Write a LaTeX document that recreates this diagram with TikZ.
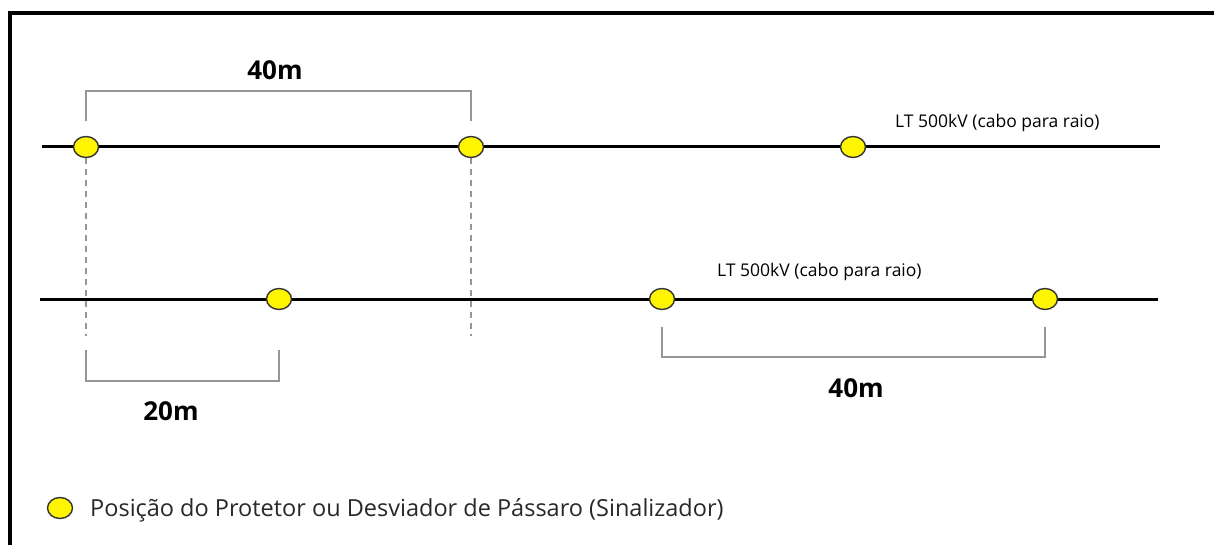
\documentclass[tikz,border=0pt]{standalone}
\usepackage{fontspec}
\setmainfont{Open Sans}
\usetikzlibrary{calc,shapes.geometric}
\definecolor{marker}{RGB}{255,245,0}
\definecolor{dimgray}{RGB}{150,150,150}
\definecolor{legendtext}{RGB}{40,40,40}
\tikzset{
  wire/.style={line width=3pt, black},
  frame/.style={line width=3.5pt, black},
  sinal/.style={ellipse, draw=black!80, line width=1.4pt, fill=marker,
    minimum width=25pt, minimum height=21pt, inner sep=0pt},
  dimline/.style={dimgray, line width=1.5pt},
  guide/.style={dimgray, line width=1.5pt, dash pattern=on 6pt off 5pt},
  dimlabel/.style={font=\fontsize{26}{28}\selectfont\bfseries, inner sep=0pt},
  linelabel/.style={font=\fontsize{17.5}{19}\selectfont, inner sep=0pt, anchor=west},
}
\begin{document}
\begin{tikzpicture}[x=1pt, y=-1pt]
  \useasboundingbox (0,0) rectangle (1214,545);

  % frame (top and left edges)
  \draw[frame] (1214,13) -- (10,13) -- (10,545);

  % end points of the two conductors
  \coordinate (a1) at (42,147);
  \coordinate (a2) at (1160,147);
  \coordinate (b1) at (40,299);
  \coordinate (b2) at (1158,299);

  % dashed guides from the first span
  \coordinate (g1t) at (86,158);
  \coordinate (g1b) at (86,336);
  \coordinate (g2t) at (471,158);
  \coordinate (g2b) at (471,336);
  \draw[guide] (g1t) -- (g1b);
  \draw[guide] (g2t) -- (g2b);

  % conductors
  \draw[wire] (a1) -- (a2);
  \draw[wire] (b1) -- (b2);

  % markers on the upper conductor
  \node[sinal] (p1) at (86,147) {};
  \node[sinal] (p2) at (471,147) {};
  \node[sinal] (p3) at (853,147) {};
  % markers on the lower conductor
  \node[sinal] (q1) at (279,299) {};
  \node[sinal] (q2) at (662,299) {};
  \node[sinal] (q3) at (1045,299) {};

  % conductor labels
  \node[linelabel] (l1) at (895,123) {LT 500kV (cabo para raio)};
  \node[linelabel] (l2) at (717,272) {LT 500kV (cabo para raio)};

  % upper 40 m dimension
  \draw[dimline] ($(p1)+(0,-26)$) |- (86,91) -| ($(p2)+(0,-26)$);
  \node[dimlabel] (d1) at (275,70) {40m};

  % lower-left 20 m dimension
  \draw[dimline] (86,350) |- (279,381) coordinate (c20) -- ($(q1)+(0,51)$);
  \node[dimlabel] (d2) at (171,411) {20m};

  % lower-right 40 m dimension
  \draw[dimline] ($(q2)+(0,28)$) |- (1045,357) -- ($(q3)+(0,28)$);
  \node[dimlabel] (d3) at (856,388) {40m};

  % legend
  \node[sinal] (leg) at (60,508) {};
  \node[font=\fontsize{23.5}{26}\selectfont, text=legendtext, anchor=west, inner sep=0pt]
    (legt) at (90,510) {Posição do Protetor ou Desviador de Pássaro (Sinalizador)};
\end{tikzpicture}
\end{document}
